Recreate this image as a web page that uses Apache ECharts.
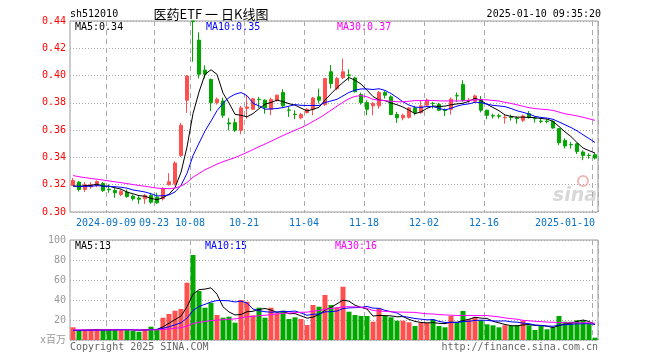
<!DOCTYPE html>
<html><head><meta charset="utf-8">
<script src="https://cdn.jsdelivr.net/npm/echarts@6/dist/echarts.min.js"></script>
<style>html,body{margin:0;padding:0;background:#fff}#c{width:660px;height:360px}</style>
</head><body><div id="c"></div>
<script>
// ---- data ----
const dates = ['2024-08-30','2024-09-02','2024-09-03','2024-09-04','2024-09-05','2024-09-06','2024-09-09','2024-09-10','2024-09-11','2024-09-12','2024-09-13','2024-09-18','2024-09-19','2024-09-20','2024-09-23','2024-09-24','2024-09-25','2024-09-26','2024-09-27','2024-09-30','2024-10-08','2024-10-09','2024-10-10','2024-10-11','2024-10-14','2024-10-15','2024-10-16','2024-10-17','2024-10-18','2024-10-21','2024-10-22','2024-10-23','2024-10-24','2024-10-25','2024-10-28','2024-10-29','2024-10-30','2024-10-31','2024-11-01','2024-11-04','2024-11-05','2024-11-06','2024-11-07','2024-11-08','2024-11-11','2024-11-12','2024-11-13','2024-11-14','2024-11-15','2024-11-18','2024-11-19','2024-11-20','2024-11-21','2024-11-22','2024-11-25','2024-11-26','2024-11-27','2024-11-28','2024-11-29','2024-12-02','2024-12-03','2024-12-04','2024-12-05','2024-12-06','2024-12-09','2024-12-10','2024-12-11','2024-12-12','2024-12-13','2024-12-16','2024-12-17','2024-12-18','2024-12-19','2024-12-20','2024-12-23','2024-12-24','2024-12-25','2024-12-26','2024-12-27','2024-12-30','2024-12-31','2025-01-02','2025-01-03','2025-01-06','2025-01-07','2025-01-08','2025-01-09','2025-01-10'];

const openP = [0.3195,0.3219,0.3165,0.3185,0.3195,0.3209,0.3167,0.3158,0.3128,0.3146,
0.3116,0.3102,0.3097,0.3121,0.3109,0.3097,0.3200,0.3207,0.3415,0.3819,
0.4400,0.4260,0.4040,0.3971,0.3802,0.3814,0.3653,0.3655,0.3599,0.3760,
0.3753,0.3826,0.3820,0.3753,0.3820,0.3876,0.3748,0.3716,0.3690,0.3729,
0.3753,0.3844,0.3787,0.4028,0.3905,0.3984,0.4005,0.3983,0.3861,0.3802,
0.3778,0.3778,0.3876,0.3844,0.3714,0.3690,0.3694,0.3763,0.3729,0.3783,
0.3797,0.3788,0.3748,0.3753,0.3853,0.3934,0.3817,0.3812,0.3824,0.3746,
0.3706,0.3706,0.3690,0.3696,0.3688,0.3672,0.3721,0.3686,0.3666,0.3666,
0.3665,0.3611,0.3525,0.3495,0.3500,0.3440,0.3416,0.3420];

const closeP = [0.3231,0.3165,0.3200,0.3200,0.3224,0.3158,0.3163,0.3141,0.3153,0.3114,
0.3097,0.3094,0.3121,0.3072,0.3067,0.3170,0.3222,0.3359,0.3636,0.3996,
0.4395,0.4010,0.4010,0.3802,0.3827,0.3709,0.3645,0.3599,0.3763,0.3770,
0.3830,0.3824,0.3765,0.3824,0.3856,0.3778,0.3746,0.3714,0.3714,0.3753,
0.3836,0.3820,0.3979,0.3942,0.3979,0.4028,0.4000,0.3881,0.3802,0.3753,
0.3795,0.3876,0.3856,0.3714,0.3690,0.3709,0.3763,0.3729,0.3778,0.3819,
0.3795,0.3746,0.3743,0.3827,0.3851,0.3819,0.3820,0.3851,0.3746,0.3709,
0.3704,0.3702,0.3694,0.3692,0.3684,0.3704,0.3692,0.3684,0.3664,0.3663,
0.3616,0.3508,0.3484,0.3493,0.3444,0.3415,0.3414,0.3395];

const lowP = [0.3190,0.3150,0.3146,0.3170,0.3182,0.3146,0.3141,0.3104,0.3116,0.3104,
0.3084,0.3060,0.3060,0.3060,0.3060,0.3084,0.3195,0.3195,0.3403,0.3726,
0.4101,0.3979,0.3979,0.3739,0.3787,0.3690,0.3599,0.3587,0.3569,0.3685,
0.3746,0.3763,0.3720,0.3710,0.3810,0.3764,0.3697,0.3680,0.3680,0.3721,
0.3709,0.3795,0.3778,0.3905,0.3893,0.3974,0.3959,0.3876,0.3787,0.3709,
0.3709,0.3758,0.3832,0.3709,0.3653,0.3672,0.3685,0.3709,0.3720,0.3770,
0.3758,0.3739,0.3704,0.3714,0.3807,0.3807,0.3795,0.3800,0.3730,0.3680,
0.3685,0.3685,0.3648,0.3670,0.3648,0.3660,0.3685,0.3655,0.3650,0.3650,
0.3610,0.3490,0.3465,0.3464,0.3425,0.3380,0.3391,0.3385];

const highP = [0.3250,0.3226,0.3219,0.3219,0.3231,0.3219,0.3202,0.3182,0.3165,0.3165,
0.3128,0.3116,0.3133,0.3141,0.3141,0.3182,0.3285,0.3371,0.3653,0.4003,
0.4400,0.4317,0.4075,0.3979,0.3839,0.3839,0.3690,0.3685,0.3778,0.3856,
0.3836,0.3844,0.3824,0.3839,0.3861,0.3900,0.3770,0.3746,0.3726,0.3763,
0.3844,0.3905,0.3983,0.4077,0.3991,0.4126,0.4045,0.3991,0.3876,0.3819,
0.3807,0.3886,0.3886,0.3856,0.3734,0.3721,0.3770,0.3778,0.3819,0.3832,
0.3807,0.3800,0.3758,0.3839,0.3876,0.3966,0.3836,0.3860,0.3850,0.3750,
0.3721,0.3721,0.3714,0.3714,0.3700,0.3714,0.3740,0.3700,0.3685,0.3680,
0.3672,0.3616,0.3540,0.3513,0.3505,0.3452,0.3430,0.3430];

// volume, millions
const volume = [12.7,10,10,10,10,10.7,10.7,10,10,11,
9.3,8.3,11,13.3,11,22.3,26,29.3,31,57.3,
85,49,32.3,37.3,25,22.3,23.3,17.3,40,38.3,
24.7,32.3,22.3,32.3,26.7,29.3,21,22.7,21,15,
35,33.3,45,35,32.5,53.3,28.3,25,24,24,
18.3,31.7,24,22.7,19.3,19.3,17.7,14,17.3,17.3,
20.7,14,12.7,24,17.3,29,20.7,22.7,19.7,15.7,
14.7,12.7,14.7,14,14.7,19.3,14.7,10,14.3,10.7,
12.7,24,18.3,18.3,19.7,19.7,16.7,2.3];

// sessions before the window, estimated from where the MA lines start at the left edge
const closePrior = [0.342,0.340,0.339,0.337,0.336,0.335,0.334,0.333,0.332,0.331,0.330,0.329,0.328,0.327,0.326,0.325,
0.322,0.322,0.321,0.321,0.320,0.319,0.320,0.318,0.319,0.318,0.317,0.319,0.318];
const volumePrior = [11,10.5,10,11,10.5,10,11,10.5,10,10.5,11,10,10.5,10,11,10.5,10,10.5,10,10.5,
10,9.5,10,9.5,10,9,8.5,8.5,8.8];

// axis labels
const labelDates = ['2024-09-09','2024-09-23','2024-10-08','2024-10-21','2024-11-04','2024-11-18','2024-12-02','2024-12-16','2025-01-10'];
const labelTexts = ['2024-09-09','09-23','10-08','10-21','11-04','11-18','12-02','12-16','2025-01-10'];
const priceTicks = [0.30,0.32,0.34,0.36,0.38,0.40,0.42,0.44];
const volTicks = [0,20,40,60,80,100];
const volUnit = 'x百万';

// header / legend texts
const code = 'sh512010';
const titleText = '医药ETF 一 日K线图';
const timeText = '2025-01-10 09:35:20';
const maPriceText = ['MA5:0.34','MA10:0.35','MA30:0.37'];
const maVolText = ['MA5:13','MA10:15','MA30:16'];

// ---- chart ----
function ma(prior, vals, n) {
  const all = prior.concat(vals);
  return vals.map((_, i) => {
    const j = prior.length + i;
    let s = 0;
    for (let k = j - n + 1; k <= j; k++) s += all[k];
    return +(s / n).toFixed(5);
  });
}
const UP = '#ff5050', DOWN = '#00a800';
const MONO = '"DejaVu Sans Mono", monospace';
const labelIdx = labelDates.map(d => dates.indexOf(d));
const candleData = dates.map((d, i) => [openP[i], closeP[i], lowP[i], highP[i]]);
const volData = volume.map((v, i) => ({ value: v, itemStyle: { color: closeP[i] >= openP[i] ? UP : DOWN } }));

function xAxis(gi, showLabel) {
  return {
    type: 'category', gridIndex: gi, data: dates, boundaryGap: true,
    axisLine: { show: false }, axisTick: { show: false },
    axisLabel: showLabel ? {
      show: true, interval: (i) => labelIdx.includes(i), margin: 6,
      color: '#0a72c6', fontFamily: MONO, fontSize: 10,
      formatter: (v) => {
        const k = labelDates.indexOf(v);
        if (k < 0) return '';
        return (k === labelDates.length - 1 ? '{b|' : '{a|') + labelTexts[k] + '}';
      },
      rich: { a: { padding: [0, 6, 0, 0] }, b: { padding: [0, 60, 0, 0] } }
    } : { show: false },
    splitLine: { show: true, interval: (i) => labelIdx.includes(i), lineStyle: { color: '#aaa', type: [5, 4], width: 1 } }
  };
}
function lineS(data, color, xi) {
  return { type: 'line', data, xAxisIndex: xi, yAxisIndex: xi, symbol: 'none', silent: true,
    lineStyle: { color, width: 1 }, z: 5 };
}
function txt(text, x, y, fill, align, font) {
  return { type: 'text', silent: true, style: { text, x, y, fill, textAlign: align, align: align,
    textVerticalAlign: 'middle', verticalAlign: 'middle', font: font || ('10px ' + MONO) } };
}

const chart = echarts.init(document.getElementById('c'), null, { renderer: 'canvas' });
chart.setOption({
  animation: false,
  backgroundColor: '#fff',
  grid: [
    { left: 70, top: 21, width: 528, height: 191, show: true, borderColor: '#999', borderWidth: 1 },
    { left: 70, top: 240, width: 528, height: 100, show: true, borderColor: '#999', borderWidth: 1 }
  ],
  xAxis: [xAxis(0, true), xAxis(1, false)],
  yAxis: [
    { type: 'value', gridIndex: 0, min: priceTicks[0], max: priceTicks[priceTicks.length - 1], interval: 0.02,
      axisLine: { show: false }, axisTick: { show: false },
      axisLabel: { color: '#f00', fontFamily: MONO, fontSize: 10, margin: 4, formatter: v => v.toFixed(2) },
      splitLine: { lineStyle: { color: '#aaa', type: [1, 2] } } },
    { type: 'value', gridIndex: 1, min: volTicks[0], max: volTicks[volTicks.length - 1], interval: 20,
      axisLine: { show: false }, axisTick: { show: false },
      axisLabel: { color: '#999', fontFamily: MONO + ', "Noto Sans CJK SC"', fontSize: 10, margin: 4,
        formatter: v => v === 0 ? volUnit : String(v) },
      splitLine: { lineStyle: { color: '#aaa', type: [1, 2] } } }
  ],
  series: [
    { type: 'candlestick', data: candleData, xAxisIndex: 0, yAxisIndex: 0, barWidth: 4, clip: false,
      itemStyle: { color: UP, color0: DOWN, borderColor: UP, borderColor0: DOWN, borderWidth: 1 } },
    lineS(ma(closePrior, closeP, 5), '#000', 0),
    lineS(ma(closePrior, closeP, 10), '#0000ff', 0),
    lineS(ma(closePrior, closeP, 30), '#ff00ff', 0),
    { type: 'bar', data: volData, xAxisIndex: 1, yAxisIndex: 1, barWidth: 5 },
    lineS(ma(volumePrior, volume, 5), '#000', 1),
    lineS(ma(volumePrior, volume, 10), '#0000ff', 1),
    lineS(ma(volumePrior, volume, 30), '#ff00ff', 1)
  ],
  graphic: [
    txt(code, 70, 14, '#000', 'left'),
    txt(titleText, 211, 14, '#000', 'center', '13px "Noto Sans CJK SC"'),
    txt(timeText, 601, 14, '#000', 'right'),
    txt(maPriceText[0], 75, 27, '#000', 'left'),
    txt(maPriceText[1], 206, 27, '#0000ff', 'left'),
    txt(maPriceText[2], 337, 27, '#ff00ff', 'left'),
    txt(maVolText[0], 75, 246, '#000', 'left'),
    txt(maVolText[1], 205, 246, '#0000ff', 'left'),
    txt(maVolText[2], 335, 246, '#ff00ff', 'left'),
    txt('Copyright 2025 SINA.COM', 70, 347, '#666', 'left'),
    txt('http://finance.sina.com.cn', 598, 347, '#666', 'right'),
    txt('sina', 597, 196, '#d8d8d8', 'right', 'italic bold 19px "DejaVu Sans"'),
    { type: 'circle', silent: true, shape: { cx: 583, cy: 181, r: 5 }, style: { fill: 'none', stroke: '#f2b8b8', lineWidth: 2 } }
  ]
});
</script></body></html>
